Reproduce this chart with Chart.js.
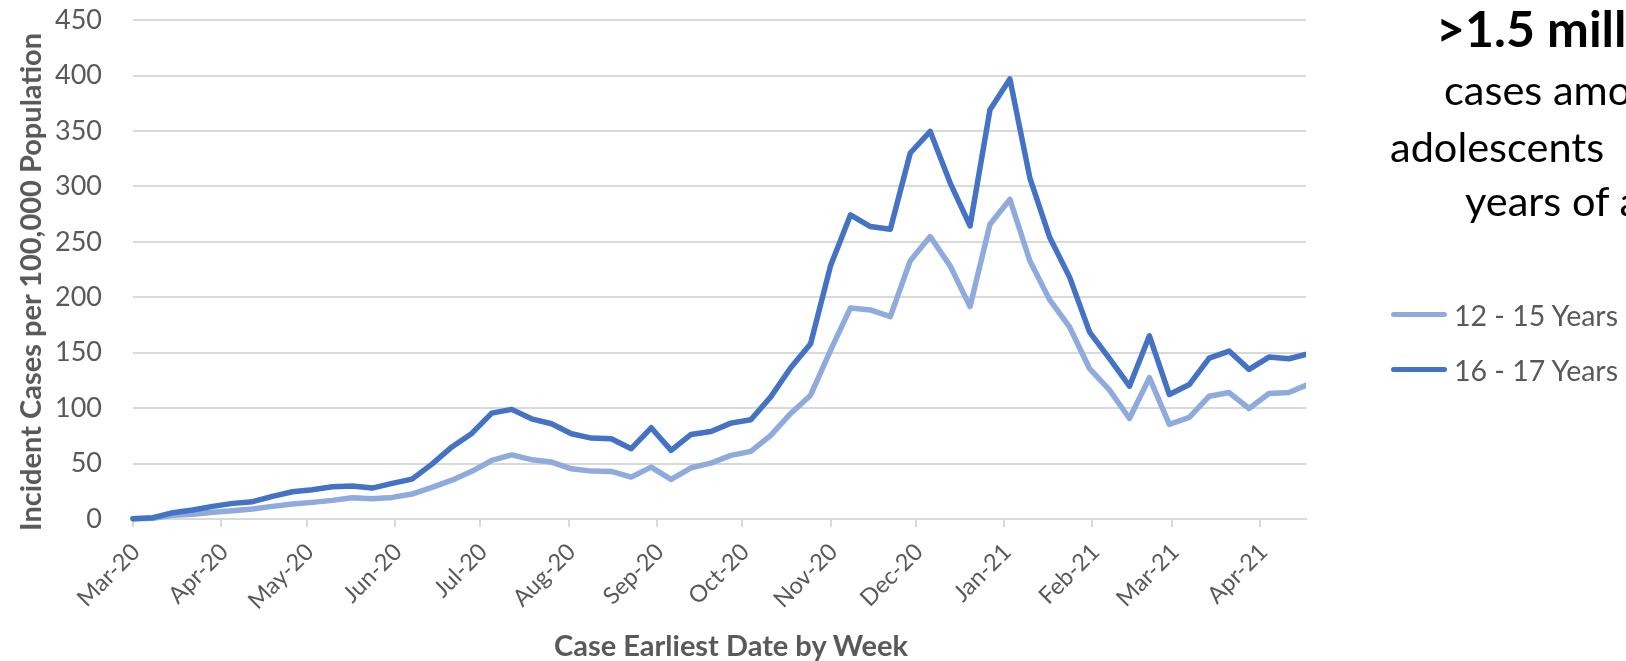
<!DOCTYPE html>
<html>
<head>
<meta charset="utf-8">
<script src="https://cdn.jsdelivr.net/npm/chart.js@4.4.1/dist/chart.umd.min.js"></script>
<style>
  html, body { margin: 0; padding: 0; background: #ffffff; }
  #wrap { position: relative; width: 1626px; height: 661px; overflow: hidden; background: #ffffff; }
  #chart { position: absolute; left: 0; top: 0; }
  .axis-title { position: absolute; font-family: Lato, sans-serif; font-weight: 700; font-size: 29px; line-height: 34px; color: #595959; white-space: nowrap; }
  #xTitle { left: 731px; top: 645px; transform: translate(-50%, -50%); }
  #yTitle { left: 30px; top: 282px; transform: translate(-50%, -50%) rotate(-90deg); }
  .note { position: absolute; left: 0; top: 0; font-family: Lato, sans-serif; color: #000; white-space: nowrap; }
  .note div { position: absolute; white-space: nowrap; }
  .note .big { font-weight: 700; font-size: 50px; line-height: 60px; }
  .note .line { font-size: 41.5px; line-height: 49.8px; }
  .legend { position: absolute; font-family: Lato, sans-serif; color: #595959; font-size: 28.5px; white-space: nowrap; }
  .legend .item { position: absolute; left: 0; height: 30px; }
  .legend .swatch { position: absolute; left: 0; top: 12px; width: 56px; height: 5px; border-radius: 3px; }
  .legend .label { position: absolute; left: 63px; top: 0; line-height: 30px; }
</style>
</head>
<body>
<div id="wrap">
  <canvas id="chart" width="1626" height="661"></canvas>
  <div class="axis-title" id="yTitle">Incident Cases per 100,000 Population</div>
  <div class="axis-title" id="xTitle">Case Earliest Date by Week</div>
  <div class="note">
    <div class="big" style="left:1436px; top:-2.5px;">&gt;1.5 million</div>
    <div class="line" style="left:1444px; top:65px;">cases among</div>
    <div class="line" style="left:1390px; top:122px;">adolescents</div>
    <div class="line" style="left:1465px; top:175.5px;">years of age</div>
  </div>
  <div class="legend" style="left:1391px; top:300px;">
    <div class="item" style="top:0px;"><span class="swatch" style="background:#8faadc"></span><span class="label">12 - 15 Years</span></div>
    <div class="item" style="top:55px;"><span class="swatch" style="background:#4472c4"></span><span class="label">16 - 17 Years</span></div>
  </div>
</div>
<script>
// Weekly incidence of COVID-19 cases per 100,000, by age group (week start dates)
const weekStart = [
  "2020-03-01","2020-03-08","2020-03-15","2020-03-22","2020-03-29",
  "2020-04-05","2020-04-12","2020-04-19","2020-04-26",
  "2020-05-03","2020-05-10","2020-05-17","2020-05-24","2020-05-31",
  "2020-06-07","2020-06-14","2020-06-21","2020-06-28",
  "2020-07-05","2020-07-12","2020-07-19","2020-07-26",
  "2020-08-02","2020-08-09","2020-08-16","2020-08-23","2020-08-30",
  "2020-09-06","2020-09-13","2020-09-20","2020-09-27",
  "2020-10-04","2020-10-11","2020-10-18","2020-10-25",
  "2020-11-01","2020-11-08","2020-11-15","2020-11-22","2020-11-29",
  "2020-12-06","2020-12-13","2020-12-20","2020-12-27",
  "2021-01-03","2021-01-10","2021-01-17","2021-01-24","2021-01-31",
  "2021-02-07","2021-02-14","2021-02-21","2021-02-28",
  "2021-03-07","2021-03-14","2021-03-21","2021-03-28",
  "2021-04-04","2021-04-11","2021-04-18"
];

const cases12to15 = [
  0.2, 0.6, 3.3, 4.2, 6.0, 7.5, 9.0, 11.4, 13.5, 15.0,
  16.8, 19.2, 18.3, 19.5, 22.5, 28.5, 35.0, 43.0, 52.8, 57.8,
  53.5, 51.4, 45.3, 43.2, 42.9, 37.8, 46.8, 35.7, 46.2, 50.4,
  57.4, 61.0, 75.5, 95.2, 111.7, 152.1, 190.4, 188.6, 182.6, 233.0,
  254.8, 228.4, 191.6, 265.9, 288.3, 233.0, 197.6, 173.0, 135.6, 116.2,
  90.7, 127.5, 85.3, 91.6, 110.8, 114.1, 99.7, 113.2, 114.1, 121.8
];

const cases16to17 = [
  0.3, 1.2, 5.7, 8.1, 11.4, 14.1, 15.6, 20.4, 24.6, 26.4,
  29.1, 29.7, 27.9, 32.1, 36.0, 49.5, 65.0, 77.2, 95.5, 98.9,
  90.4, 85.9, 76.9, 73.0, 72.4, 63.4, 82.3, 61.9, 76.3, 79.0,
  86.5, 89.5, 110.2, 136.5, 158.1, 228.4, 274.3, 263.8, 261.4, 330.2,
  349.7, 303.3, 264.4, 369.2, 397.0, 307.8, 253.9, 218.0, 168.6, 144.6,
  119.8, 165.3, 112.3, 121.3, 145.2, 151.5, 135.0, 146.1, 144.6, 149.2
];

// Month ticks along the date axis
const monthTickDates = [
  "2020-03-01","2020-04-01","2020-05-01","2020-06-01","2020-07-01","2020-08-01",
  "2020-09-01","2020-10-01","2020-11-01","2020-12-01","2021-01-01","2021-02-01",
  "2021-03-01","2021-04-01"
];
const monthTickLabels = [
  "Mar-20","Apr-20","May-20","Jun-20","Jul-20","Aug-20",
  "Sep-20","Oct-20","Nov-20","Dec-20","Jan-21","Feb-21",
  "Mar-21","Apr-21"
];

const axisStart = "2020-03-01";
const axisEnd = "2021-04-17";
const yMax = 450;
const yStep = 50;

const dayOf = d => Math.round((Date.parse(d) - Date.parse(axisStart)) / 864e5);
const toPoints = values => weekStart.map((d, i) => ({ x: dayOf(d), y: values[i] }));

const FONT = "Lato, 'Open Sans', sans-serif";
const GREY_TEXT = "#595959";
const GRID = "#d9d9d9";

new Chart(document.getElementById("chart"), {
  type: "line",
  data: {
    datasets: [
      {
        label: "12 - 15 Years",
        data: toPoints(cases12to15),
        borderColor: "#8faadc",
        backgroundColor: "#8faadc",
        order: 1
      },
      {
        label: "16 - 17 Years",
        data: toPoints(cases16to17),
        borderColor: "#4472c4",
        backgroundColor: "#4472c4",
        order: 0
      }
    ]
  },
  options: {
    responsive: false,
    animation: false,
    devicePixelRatio: 1,
    layout: { padding: { top: 19, right: 320, bottom: 0, left: 0 } },
    elements: {
      line: { borderWidth: 5.5, tension: 0, borderJoinStyle: "round", borderCapStyle: "round" },
      point: { radius: 0, hoverRadius: 0 }
    },
    datasets: {
      line: { clip: { left: 3, top: 5, right: 0, bottom: 5 } }
    },
    plugins: {
      legend: { display: false },
      tooltip: { enabled: false },
      title: { display: false }
    },
    scales: {
      x: {
        type: "linear",
        min: 0,
        max: dayOf(axisEnd),
        afterBuildTicks: scale => {
          scale.ticks = monthTickDates.map(d => ({ value: dayOf(d) }));
        },
        afterFit: scale => { scale.height = 661 - 519; },
        ticks: {
          autoSkip: false,
          minRotation: 45,
          maxRotation: 45,
          padding: 11,
          labelOffset: 3,
          color: GREY_TEXT,
          font: { family: FONT, size: 23.5 },
          callback: (value, index) => monthTickLabels[index]
        },
        grid: {
          drawOnChartArea: false,
          drawTicks: true,
          tickLength: 8,
          color: GRID,
          lineWidth: 2
        },
        border: { display: true, color: GRID, width: 2 },
        title: { display: false }
      },
      y: {
        min: 0,
        max: yMax,
        afterFit: scale => { scale.width = 133; },
        ticks: {
          stepSize: yStep,
          padding: 4,
          color: GREY_TEXT,
          font: { family: FONT, size: 27 }
        },
        grid: {
          color: GRID,
          lineWidth: 2,
          drawTicks: true,
          tickLength: 27,
          tickColor: "rgba(0,0,0,0)"
        },
        border: { display: false },
        title: { display: false }
      }
    }
  }
});
</script>
</body>
</html>
